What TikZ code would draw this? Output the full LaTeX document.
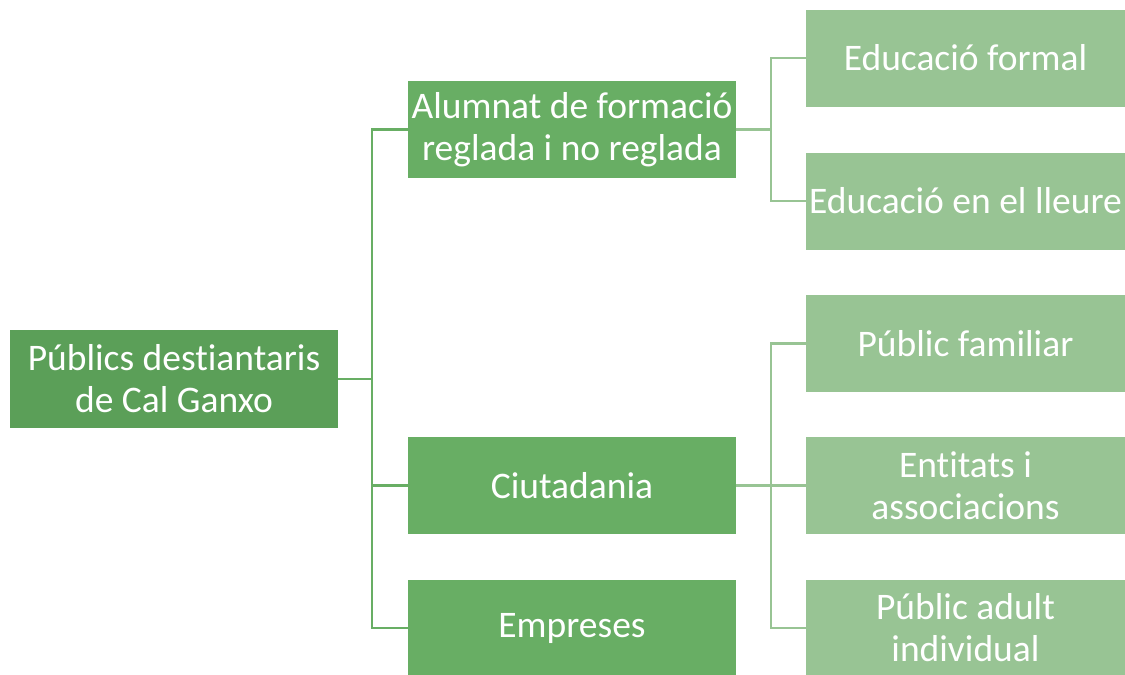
\documentclass[tikz,border=0pt]{standalone}
\usepackage{fontspec}
\setmainfont[Ligatures={NoCommon}]{Carlito}
\definecolor{cRoot}{HTML}{5B9F58}
\definecolor{cMid}{HTML}{68AE64}
\definecolor{cLeaf}{HTML}{98C494}
\tikzset{
  box/.style={fill=#1, text=white, inner sep=0pt, align=center,
    font=\fontsize{37.5}{42}\selectfont},
  rootbox/.style={box=cRoot, minimum width=328pt, minimum height=98pt},
  midbox/.style={box=cMid, minimum width=328pt, minimum height=97pt},
  leafbox/.style={box=cLeaf, minimum width=319pt, minimum height=97pt},
  linkA/.style={draw=cMid, line width=2.2pt},
  linkB/.style={draw=cLeaf, line width=2.2pt},
}
\begin{document}
\begin{tikzpicture}[x=1pt,y=-1pt]
\useasboundingbox (0,0) rectangle (1125,675);
\node[rootbox] (root) at (174,379) {Públics destiantaris\\de Cal Ganxo};
\node[midbox] (alum) at (572,129.5) {Alumnat de formació\\reglada i no reglada};
\node[midbox] (ciut) at (572,485.5) {Ciutadania};
\node[midbox, minimum height=96pt] (emp) at (572,628) {Empreses};
\node[leafbox] (ef) at (965.5,58) {Educació formal};
\node[leafbox] (el) at (965.5,201) {Educació en el lleure};
\node[leafbox] (pf) at (965.5,343.5) {Públic familiar};
\node[leafbox] (ea) at (965.5,485.5) {Entitats i\\associacions};
\node[leafbox, minimum height=96pt] (pa) at (965.5,628) {Públic adult\\individual};
% connectors level 1
\draw[linkA] (root.east) -- ++(34,0) coordinate (r1);
\draw[linkA] (r1) |- (alum.west);
\draw[linkA] (r1) |- (ciut.west);
\draw[linkA] (r1) |- (emp.west);
% connectors level 2
\draw[linkB] (alum.east) -- ++(35,0) coordinate (a1);
\draw[linkB] (a1) |- (ef.west);
\draw[linkB] (a1) |- (el.west);
\draw[linkB] (ciut.east) -- ++(35,0) coordinate (c1);
\draw[linkB] (c1) |- (pf.west);
\draw[linkB] (c1) |- (ea.west);
\draw[linkB] (c1) |- (pa.west);
\end{tikzpicture}
\end{document}
